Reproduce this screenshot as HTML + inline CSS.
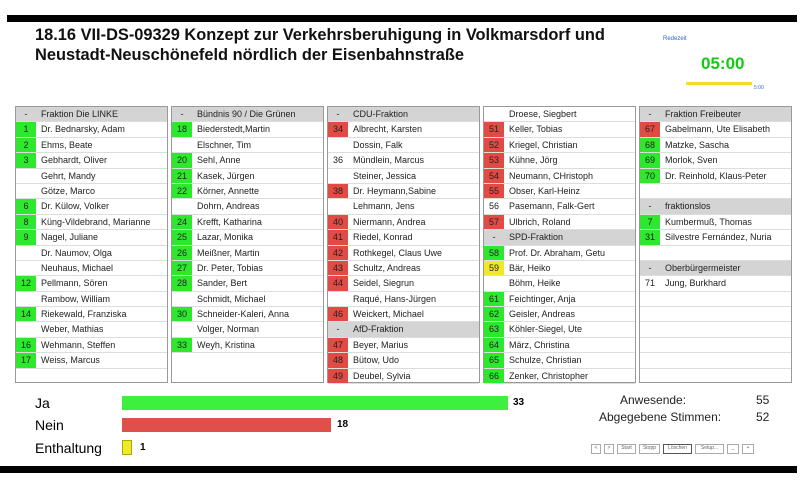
<!DOCTYPE html><html><head><meta charset="utf-8"><style>
body{margin:0;width:807px;height:492px;background:#fff;position:relative;overflow:hidden;font-family:"Liberation Sans",sans-serif}
.bar{position:absolute;background:#000}
.col{position:absolute;top:106px;width:153px;height:277px;border:1px solid #999;box-sizing:border-box;background:#fff}
.r{height:15.4px;display:flex;border-bottom:1px solid #ddd;box-sizing:border-box;font-size:9px;line-height:14px;color:#222}
.r .n{width:20px;text-align:center;flex:none}
.r .t{padding-left:5px;white-space:nowrap;overflow:hidden}
.h{background:#d4d4d4}
.g{background:#2ee82e}.d{background:#e24a44}.y{background:#f1e82a}
.abs{position:absolute}
</style></head><body>
<div class="bar" style="left:7px;top:15px;width:790px;height:7px"></div>
<div class="bar" style="left:0;top:466px;width:797px;height:7px"></div>
<div class="abs" style="left:35px;top:26px;font-size:16.4px;font-weight:bold;line-height:19.5px;color:#111">18.16 VII-DS-09329 Konzept zur Verkehrsberuhigung in Volkmarsdorf und<br>Neustadt-Neuschönefeld nördlich der Eisenbahnstraße</div>
<div class="abs" style="left:663px;top:36px;font-size:6px;color:#36c">Redezeit</div>
<div class="abs" style="left:701px;top:54px;font-size:17px;font-weight:bold;color:#1c1">05:00</div>
<div class="abs" style="left:686px;top:82px;width:66px;height:3px;background:#f0e020"></div>
<div class="abs" style="left:754px;top:85px;font-size:5px;color:#36c">5:00</div>

<div class="col" style="left:15px">
<div class="r h"><span class="n">-</span><span class="t">Fraktion Die LINKE</span></div>
<div class="r"><span class="n g">1</span><span class="t">Dr. Bednarsky, Adam</span></div>
<div class="r"><span class="n g">2</span><span class="t">Ehms, Beate</span></div>
<div class="r"><span class="n g">3</span><span class="t">Gebhardt, Oliver</span></div>
<div class="r"><span class="n"></span><span class="t">Gehrt, Mandy</span></div>
<div class="r"><span class="n"></span><span class="t">Götze, Marco</span></div>
<div class="r"><span class="n g">6</span><span class="t">Dr. Külow, Volker</span></div>
<div class="r"><span class="n g">8</span><span class="t">Küng-Vildebrand, Marianne</span></div>
<div class="r"><span class="n g">9</span><span class="t">Nagel, Juliane</span></div>
<div class="r"><span class="n"></span><span class="t">Dr. Naumov, Olga</span></div>
<div class="r"><span class="n"></span><span class="t">Neuhaus, Michael</span></div>
<div class="r"><span class="n g">12</span><span class="t">Pellmann, Sören</span></div>
<div class="r"><span class="n"></span><span class="t">Rambow, William</span></div>
<div class="r"><span class="n g">14</span><span class="t">Riekewald, Franziska</span></div>
<div class="r"><span class="n"></span><span class="t">Weber, Mathias</span></div>
<div class="r"><span class="n g">16</span><span class="t">Wehmann, Steffen</span></div>
<div class="r"><span class="n g">17</span><span class="t">Weiss, Marcus</span></div>
</div>

<div class="col" style="left:171px">
<div class="r h"><span class="n">-</span><span class="t">Bündnis 90 / Die Grünen</span></div>
<div class="r"><span class="n g">18</span><span class="t">Biederstedt,Martin</span></div>
<div class="r"><span class="n"></span><span class="t">Elschner, Tim</span></div>
<div class="r"><span class="n g">20</span><span class="t">Sehl, Anne</span></div>
<div class="r"><span class="n g">21</span><span class="t">Kasek, Jürgen</span></div>
<div class="r"><span class="n g">22</span><span class="t">Körner, Annette</span></div>
<div class="r"><span class="n"></span><span class="t">Dohrn, Andreas</span></div>
<div class="r"><span class="n g">24</span><span class="t">Krefft, Katharina</span></div>
<div class="r"><span class="n g">25</span><span class="t">Lazar, Monika</span></div>
<div class="r"><span class="n g">26</span><span class="t">Meißner, Martin</span></div>
<div class="r"><span class="n g">27</span><span class="t">Dr. Peter, Tobias</span></div>
<div class="r"><span class="n g">28</span><span class="t">Sander, Bert</span></div>
<div class="r"><span class="n"></span><span class="t">Schmidt, Michael</span></div>
<div class="r"><span class="n g">30</span><span class="t">Schneider-Kaleri, Anna</span></div>
<div class="r"><span class="n"></span><span class="t">Volger, Norman</span></div>
<div class="r"><span class="n g">33</span><span class="t">Weyh, Kristina</span></div>
</div>

<div class="col" style="left:327px">
<div class="r h"><span class="n">-</span><span class="t">CDU-Fraktion</span></div>
<div class="r"><span class="n d">34</span><span class="t">Albrecht, Karsten</span></div>
<div class="r"><span class="n"></span><span class="t">Dossin, Falk</span></div>
<div class="r"><span class="n">36</span><span class="t">Mündlein, Marcus</span></div>
<div class="r"><span class="n"></span><span class="t">Steiner, Jessica</span></div>
<div class="r"><span class="n d">38</span><span class="t">Dr. Heymann,Sabine</span></div>
<div class="r"><span class="n"></span><span class="t">Lehmann, Jens</span></div>
<div class="r"><span class="n d">40</span><span class="t">Niermann, Andrea</span></div>
<div class="r"><span class="n d">41</span><span class="t">Riedel, Konrad</span></div>
<div class="r"><span class="n d">42</span><span class="t">Rothkegel, Claus Uwe</span></div>
<div class="r"><span class="n d">43</span><span class="t">Schultz, Andreas</span></div>
<div class="r"><span class="n d">44</span><span class="t">Seidel, Siegrun</span></div>
<div class="r"><span class="n"></span><span class="t">Raqué, Hans-Jürgen</span></div>
<div class="r"><span class="n d">46</span><span class="t">Weickert, Michael</span></div>
<div class="r h"><span class="n">-</span><span class="t">AfD-Fraktion</span></div>
<div class="r"><span class="n d">47</span><span class="t">Beyer, Marius</span></div>
<div class="r"><span class="n d">48</span><span class="t">Bütow, Udo</span></div>
<div class="r"><span class="n d">49</span><span class="t">Deubel, Sylvia</span></div>
</div>

<div class="col" style="left:483px">
<div class="r"><span class="n"></span><span class="t">Droese, Siegbert</span></div>
<div class="r"><span class="n d">51</span><span class="t">Keller, Tobias</span></div>
<div class="r"><span class="n d">52</span><span class="t">Kriegel, Christian</span></div>
<div class="r"><span class="n d">53</span><span class="t">Kühne, Jörg</span></div>
<div class="r"><span class="n d">54</span><span class="t">Neumann, CHristoph</span></div>
<div class="r"><span class="n d">55</span><span class="t">Obser, Karl-Heinz</span></div>
<div class="r"><span class="n">56</span><span class="t">Pasemann, Falk-Gert</span></div>
<div class="r"><span class="n d">57</span><span class="t">Ulbrich, Roland</span></div>
<div class="r h"><span class="n">-</span><span class="t">SPD-Fraktion</span></div>
<div class="r"><span class="n g">58</span><span class="t">Prof. Dr. Abraham, Getu</span></div>
<div class="r"><span class="n y">59</span><span class="t">Bär, Heiko</span></div>
<div class="r"><span class="n"></span><span class="t">Böhm, Heike</span></div>
<div class="r"><span class="n g">61</span><span class="t">Feichtinger, Anja</span></div>
<div class="r"><span class="n g">62</span><span class="t">Geisler, Andreas</span></div>
<div class="r"><span class="n g">63</span><span class="t">Köhler-Siegel, Ute</span></div>
<div class="r"><span class="n g">64</span><span class="t">März, Christina</span></div>
<div class="r"><span class="n g">65</span><span class="t">Schulze, Christian</span></div>
<div class="r"><span class="n g">66</span><span class="t">Zenker, Christopher</span></div>
</div>

<div class="col" style="left:639px">
<div class="r h"><span class="n">-</span><span class="t">Fraktion Freibeuter</span></div>
<div class="r"><span class="n d">67</span><span class="t">Gabelmann, Ute Elisabeth</span></div>
<div class="r"><span class="n g">68</span><span class="t">Matzke, Sascha</span></div>
<div class="r"><span class="n g">69</span><span class="t">Morlok, Sven</span></div>
<div class="r"><span class="n g">70</span><span class="t">Dr. Reinhold, Klaus-Peter</span></div>
<div class="r"><span class="n"></span><span class="t"></span></div>
<div class="r h"><span class="n">-</span><span class="t">fraktionslos</span></div>
<div class="r"><span class="n g">7</span><span class="t">Kumbermuß, Thomas</span></div>
<div class="r"><span class="n g">31</span><span class="t">Silvestre Fernández, Nuria</span></div>
<div class="r"><span class="n"></span><span class="t"></span></div>
<div class="r h"><span class="n">-</span><span class="t">Oberbürgermeister</span></div>
<div class="r"><span class="n">71</span><span class="t">Jung, Burkhard</span></div>
<div class="r"></div><div class="r"></div><div class="r"></div><div class="r"></div><div class="r"></div>
</div>

<div class="abs" style="left:35px;top:395px;font-size:14px">Ja</div>
<div class="abs" style="left:122px;top:396px;width:386px;height:14px;background:#3ef03e"></div>
<div class="abs" style="left:513px;top:397px;font-size:10px;font-weight:bold">33</div>
<div class="abs" style="left:35px;top:417px;font-size:14px">Nein</div>
<div class="abs" style="left:122px;top:418px;width:209px;height:14px;background:#e0504a"></div>
<div class="abs" style="left:337px;top:419px;font-size:10px;font-weight:bold">18</div>
<div class="abs" style="left:35px;top:440px;font-size:14px">Enthaltung</div>
<div class="abs" style="left:122px;top:440px;width:10px;height:15px;background:#f1e82a;box-sizing:border-box;border:1px solid #aa0"></div>
<div class="abs" style="left:140px;top:442px;font-size:10px;font-weight:bold">1</div>

<div class="abs" style="left:620px;top:393px;font-size:12px;color:#222">Anwesende:</div>
<div class="abs" style="left:756px;top:393px;font-size:12px;color:#222">55</div>
<div class="abs" style="left:599px;top:410px;font-size:12px;color:#222">Abgegebene Stimmen:</div>
<div class="abs" style="left:756px;top:410px;font-size:12px;color:#222">52</div>
<div class="abs" style="left:591px;top:444px;font-size:5px;color:#666;display:flex;gap:3px">
<span style="border:1px solid #aaa;width:8px;height:8px;text-align:center">&lt;</span>
<span style="border:1px solid #aaa;width:8px;height:8px;text-align:center">&gt;</span>
<span style="border:1px solid #aaa;width:17px;height:8px;text-align:center">Start</span>
<span style="border:1px solid #aaa;width:19px;height:8px;text-align:center">Stopp</span>
<span style="border:1px solid #555;width:27px;height:8px;text-align:center">Löschen</span>
<span style="border:1px solid #aaa;width:27px;height:8px;text-align:center">Setup...</span>
<span style="border:1px solid #aaa;width:10px;height:8px;text-align:center">_</span>
<span style="border:1px solid #aaa;width:10px;height:8px;text-align:center">+</span>
</div>
</body></html>
